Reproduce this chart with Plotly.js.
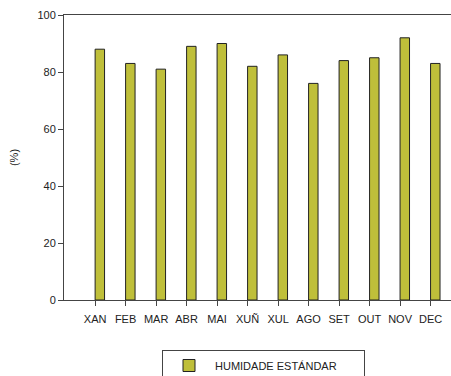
<!DOCTYPE html>
<html>
<head>
<meta charset="utf-8">
<script src="https://cdn.plot.ly/plotly-3.0.1.min.js"></script>
<style>
html,body{margin:0;padding:0;background:#fff;}
#chart{width:451px;height:376px;}
</style>
</head>
<body>
<div id="chart"></div>
<script>
const months = ["XAN","FEB","MAR","ABR","MAI","XUÑ","XUL","AGO","SET","OUT","NOV","DEC"];
const humidity = [88, 83, 81, 89, 90, 82, 86, 76, 84, 85, 92, 83];
const seriesName = "HUMIDADE ESTÁNDAR";
const yTicks = [0, 20, 40, 60, 80, 100];

const trace = {
  type: "bar",
  x: months.map((m, i) => i),
  y: humidity,
  name: seriesName,
  offset: 0,
  width: 0.31,
  marker: {color: "#bfbf3a", line: {color: "#222", width: 1}},
  showlegend: true,
  hoverinfo: "skip"
};

const layout = {
  width: 451, height: 376,
  margin: {l: 64, r: 0, t: 15, b: 76, autoexpand: false},
  paper_bgcolor: "#fff",
  plot_bgcolor: "#fff",
  font: {family: "Liberation Sans, Arial, sans-serif", size: 11, color: "#222"},
  showlegend: true,
  xaxis: {
    range: [-1.02, 11.67],
    tickmode: "array",
    tickvals: months.map((m, i) => i),
    ticktext: months,
    ticks: "outside", ticklen: 5, tickcolor: "#444",
    ticklabelstandoff: 4,
    showline: true, linecolor: "#444", linewidth: 1,
    mirror: true,
    showgrid: false, zeroline: false,
    automargin: false,
    fixedrange: true
  },
  yaxis: {
    range: [0, 100],
    tickmode: "array",
    tickvals: yTicks,
    ticks: "outside", ticklen: 5, tickcolor: "#444",
    showline: true, linecolor: "#444", linewidth: 1,
    showgrid: false, zeroline: false,
    automargin: false,
    title: {text: "(%)", font: {size: 11}, standoff: 16},
    fixedrange: true
  },
  legend: {
    orientation: "h",
    xref: "container", yref: "container",
    x: 162/451, xanchor: "left",
    y: (376-350)/376, yanchor: "top",
    bordercolor: "#444", borderwidth: 1,
    bgcolor: "#fff",
    font: {size: 11},
    itemwidth: 42,
    entrywidth: 144
  },
  bargap: 0
};

Plotly.newPlot("chart", [trace], layout, {displayModeBar: false, staticPlot: true});
</script>
</body>
</html>
